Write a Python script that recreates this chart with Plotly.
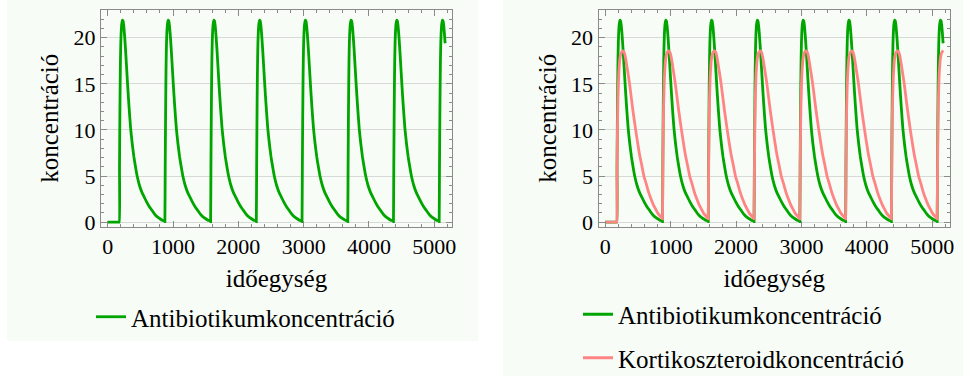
import plotly.graph_objects as go

# ---- data ----
dose_times = [175, 875, 1575, 2275, 2975, 3675, 4375, 5075]
t_end = 5168

# flat zero section before the first dose
pre_t = [0, 60, 120, 165, 175]
pre_v = [0, 0, 0, 0, 0]

# antibiotic concentration after each dose (offset from dose time, value)
ab_offset = [0, 5, 10, 15, 20, 25, 30, 38, 50, 60, 70, 80, 90, 100, 115, 130, 150, 175,
             200, 225, 250, 275, 310, 350, 385, 420, 460, 500, 540, 580, 620, 660, 699]
ab_value = [0.05, 6.0, 11.0, 15.0, 17.8, 19.5, 20.5, 21.4, 21.9, 21.8, 21.3, 20.5, 19.5, 18.4,
            16.6, 14.8, 12.6, 10.2, 8.5, 7.1, 6.0, 5.0, 4.0, 3.2, 2.7, 2.2, 1.7, 1.3, 0.9, 0.6,
            0.4, 0.22, 0.1]
ab_end = 19.4

# corticosteroid concentration after each dose
ck_offset = [0, 5, 10, 15, 20, 30, 40, 50, 65, 80, 100, 115, 130, 145, 160, 180, 200, 225,
             250, 270, 290, 320, 350, 385, 416, 450, 490, 525, 563, 600, 630, 665, 699]
ck_value = [0.35, 5.0, 9.0, 11.8, 13.5, 15.8, 17.0, 17.8, 18.3, 18.5, 18.55, 18.4, 18.0, 17.4,
            16.7, 15.8, 14.8, 13.4, 12.0, 11.0, 10.0, 8.6, 7.3, 6.1, 5.0, 4.2, 3.2, 2.5, 1.85,
            1.35, 0.95, 0.65, 0.4]
ck_end = 18.6

x_ticks = [0, 1000, 2000, 3000, 4000, 5000]
y_ticks = [0, 5, 10, 15, 20]

name_ab = "Antibiotikumkoncentráció"
name_ck = "Kortikoszteroidkoncentráció"
x_title = "időegység"
y_title = "koncentráció"


def build(offsets, values, end_value):
    ts, vs = list(pre_t), list(pre_v)
    for k, d in enumerate(dose_times):
        nxt = dose_times[k + 1] if k + 1 < len(dose_times) else t_end
        for i, (o, v) in enumerate(zip(offsets, values)):
            if k == 0 and i == 0:
                continue
            if d + o < nxt:
                ts.append(d + o)
                vs.append(v)
    ts.append(t_end)
    vs.append(end_value)
    return ts, vs


ab_t, ab_v = build(ab_offset, ab_value, ab_end)
ck_t, ck_v = build(ck_offset, ck_value, ck_end)

GREEN = "#00A500"
PINK = "#FF8585"
W, H = 963, 376
serif = "Liberation Serif, Times New Roman, Times, serif"
LW = 2.8

fig = go.Figure()
fig.add_trace(go.Scatter(x=ab_t, y=ab_v, mode="lines", name=name_ab,
                         line=dict(color=GREEN, width=LW, shape="spline", smoothing=0.5),
                         xaxis="x", yaxis="y", legend="legend", showlegend=True))
fig.add_trace(go.Scatter(x=ab_t, y=ab_v, mode="lines", name=name_ab,
                         line=dict(color=GREEN, width=LW, shape="spline", smoothing=0.5),
                         xaxis="x2", yaxis="y2",
                         legend="legend2", legendgroup="a", showlegend=True))
fig.add_trace(go.Scatter(x=ck_t, y=ck_v, mode="lines", name=name_ck,
                         line=dict(color=PINK, width=LW, shape="spline", smoothing=0.5),
                         xaxis="x2", yaxis="y2",
                         legend="legend2", legendgroup="b", showlegend=True))

frame = "#8a8a8a"


def tickfont():
    return dict(family=serif, size=22, color="black")


def titlefont():
    return dict(family=serif, size=25, color="black")


span = t_end
xr = [-0.02 * span, t_end + 0.02 * span]
yr = [-0.47, 23.0]


def xaxis(domain, anchor):
    return dict(domain=domain, anchor=anchor, range=xr, tickvals=x_ticks,
                showline=True, linecolor=frame, linewidth=1, mirror="allticks",
                ticks="inside", ticklen=6, tickcolor=frame, tickfont=tickfont(),
                showgrid=False, zeroline=False,
                minor=dict(ticks="inside", ticklen=3, tickcolor=frame, dtick=200, tick0=0,
                           showgrid=False),
                title=dict(text=x_title, font=titlefont(), standoff=11))


def yaxis(domain, anchor):
    return dict(domain=domain, anchor=anchor, range=yr, tickvals=y_ticks,
                showline=True, linecolor=frame, linewidth=1, mirror="allticks",
                ticks="inside", ticklen=6, tickcolor=frame, tickfont=tickfont(),
                showgrid=True, gridcolor="#d9d9d9", gridwidth=1, zeroline=False,
                minor=dict(ticks="inside", ticklen=3, tickcolor=frame, dtick=1, tick0=0,
                           showgrid=False),
                title=dict(text=y_title, font=titlefont(), standoff=7))


ydom = [1 - 226.5 / H, 1 - 10 / H]
fig.update_layout(
    width=W, height=H, margin=dict(l=0, r=0, t=0, b=0, autoexpand=False),
    font=dict(family=serif, color="black"),
    showlegend=True,
    paper_bgcolor="white", plot_bgcolor="rgba(0,0,0,0)",
    xaxis=xaxis([101 / W, 452 / W], "y"),
    yaxis=yaxis(ydom, "x"),
    xaxis2=xaxis([598.5 / W, 950 / W], "y2"),
    yaxis2=yaxis(ydom, "x2"),
    legend=dict(x=91 / W, y=1 - 317 / H, xanchor="left", yanchor="middle",
                font=titlefont(), bgcolor="rgba(0,0,0,0)"),
    legend2=dict(x=578 / W, y=1 - 336 / H, xanchor="left", yanchor="middle",
                 font=titlefont(), bgcolor="rgba(0,0,0,0)", tracegroupgap=8),
    shapes=[
        dict(type="rect", xref="paper", yref="paper", x0=7 / W, x1=478 / W,
             y0=1 - 341 / H, y1=1, fillcolor="#F7FCF7", line=dict(width=0), layer="below"),
        dict(type="rect", xref="paper", yref="paper", x0=503 / W, x1=1,
             y0=0, y1=1, fillcolor="#F7FCF7", line=dict(width=0), layer="below"),
    ],
)

fig.write_html("out.html")
